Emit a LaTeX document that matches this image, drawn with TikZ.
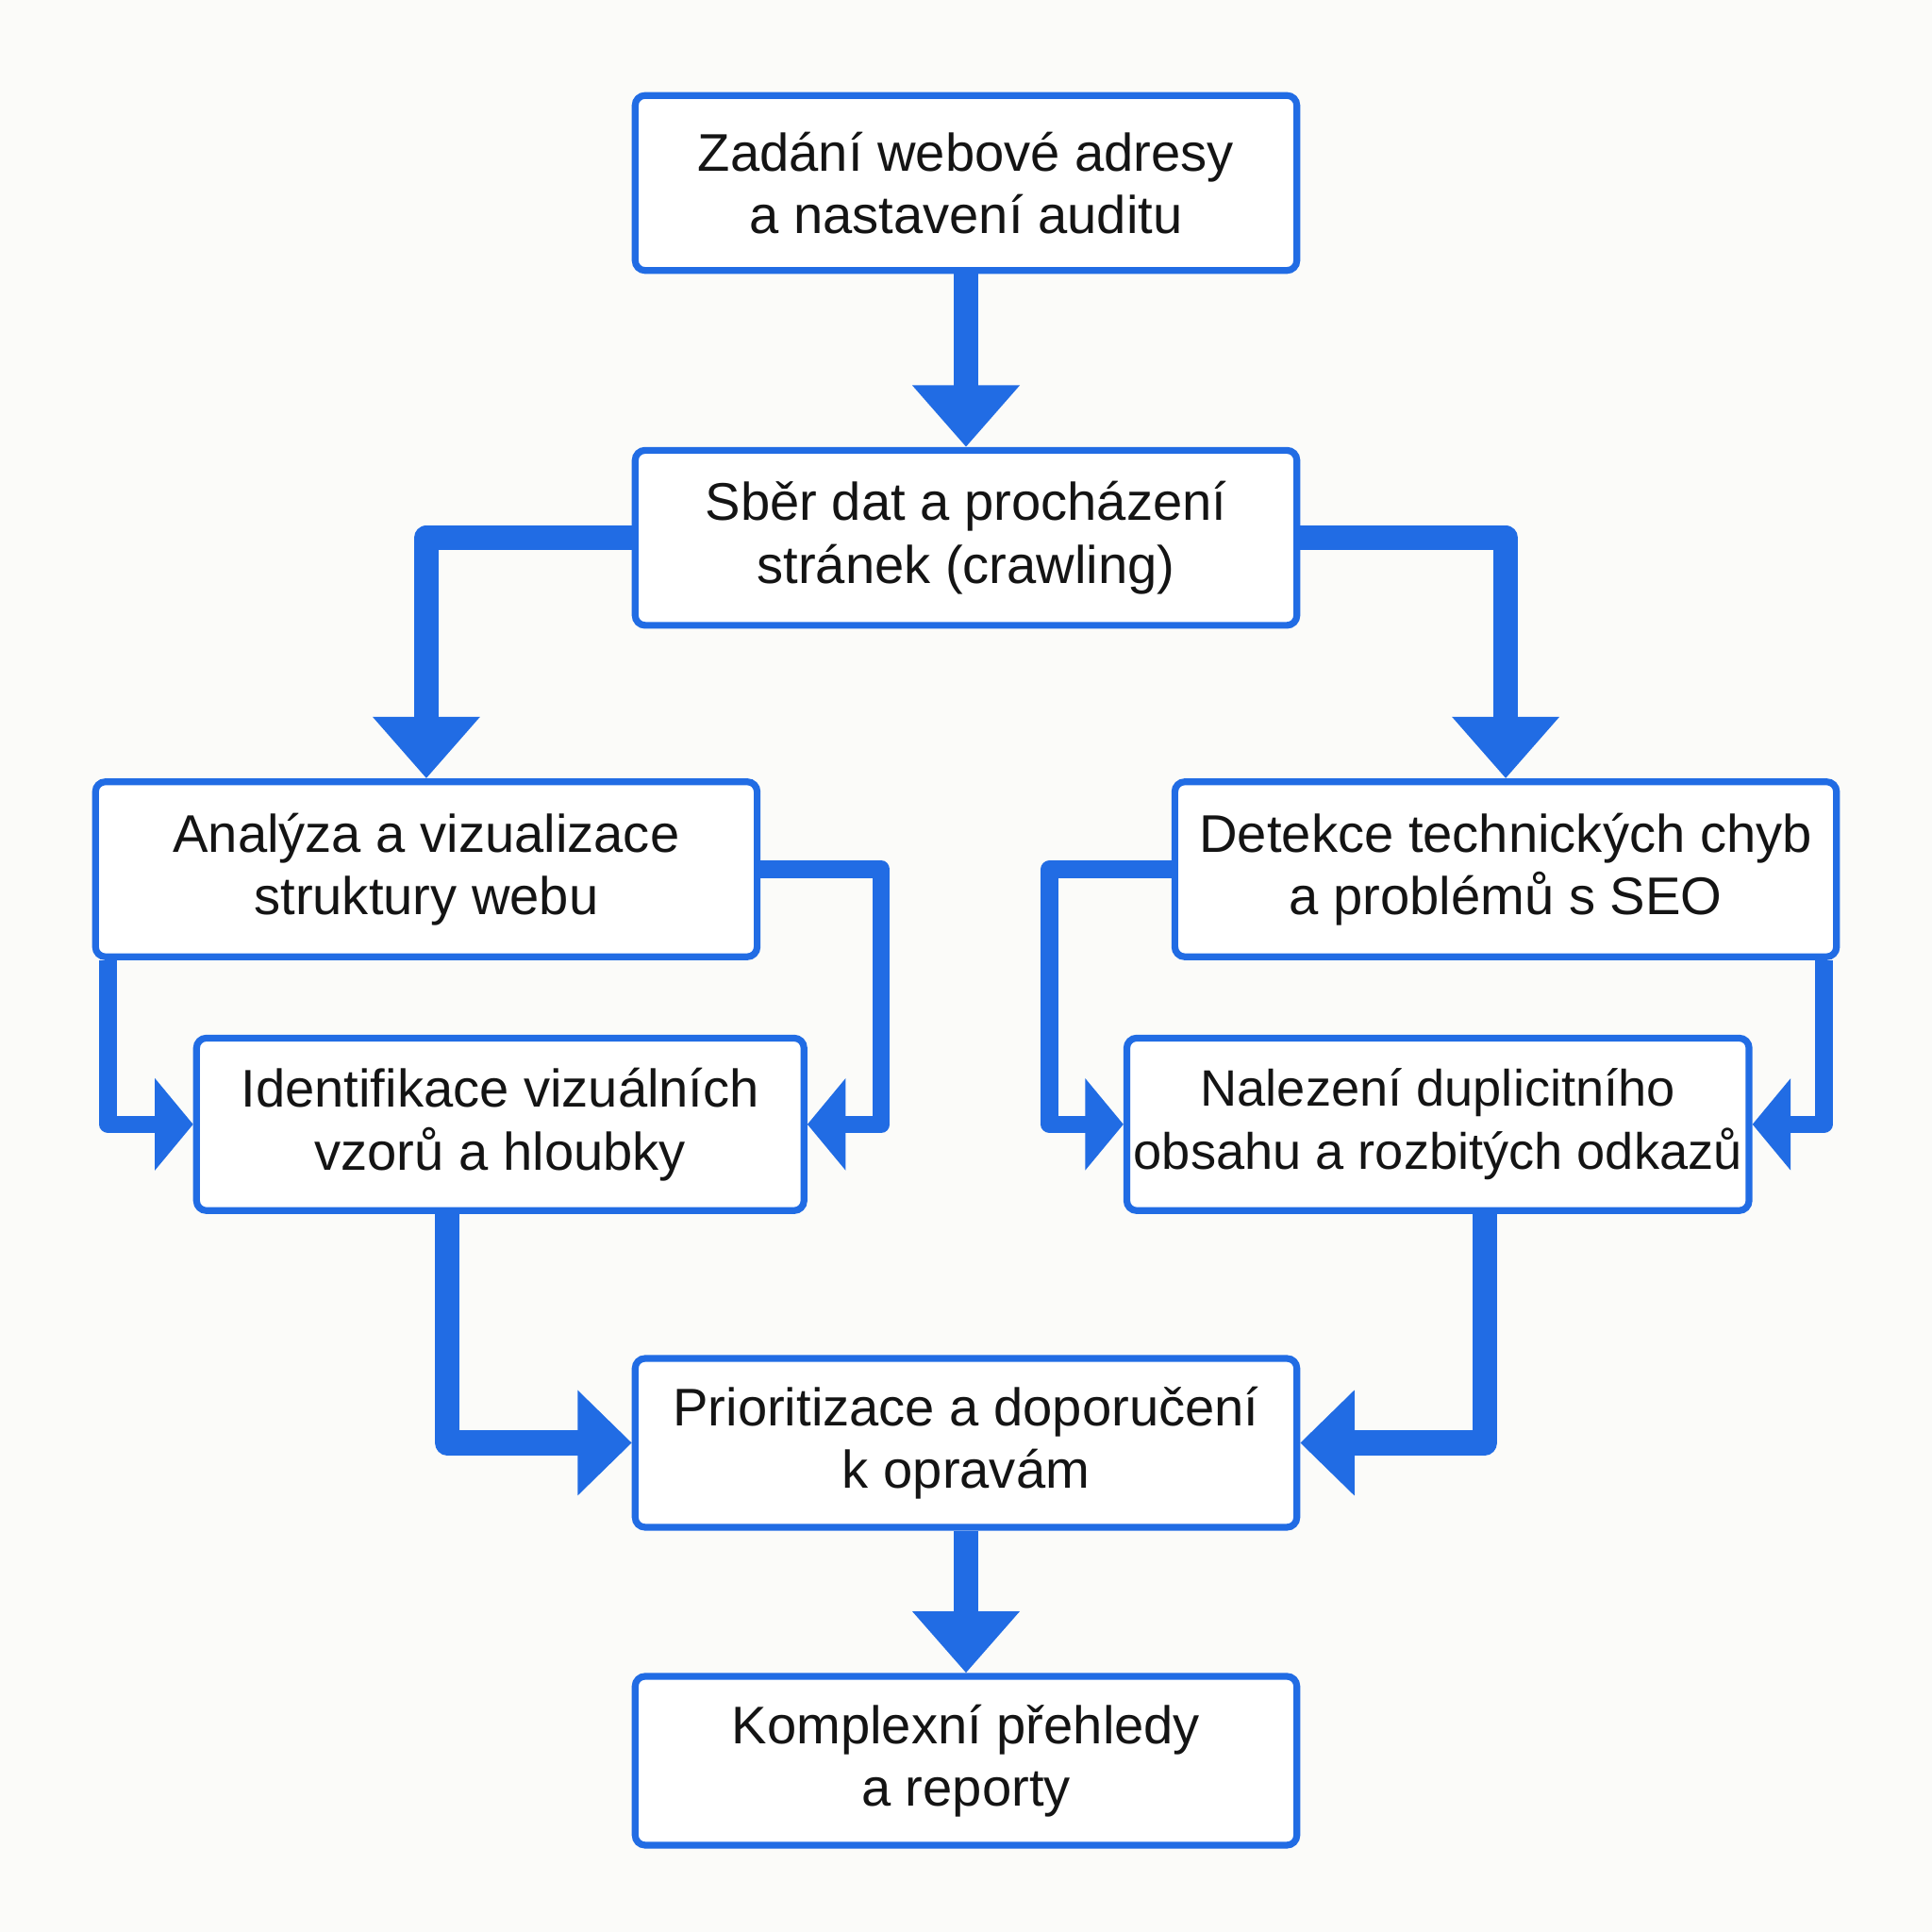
\documentclass[tikz,border=0pt]{standalone}
\usepackage{fontspec}
\setmainfont{Liberation Sans}
\usetikzlibrary{arrows.meta,backgrounds,calc}
\definecolor{flowblue}{RGB}{33,108,228}
\definecolor{bgcol}{RGB}{251,251,249}
\definecolor{txt}{RGB}{20,20,20}
\begin{document}
\begin{tikzpicture}[x=1pt,y=-1pt,
  box/.style={draw=flowblue, line width=5.5pt, fill=white, rounded corners=8pt,
    minimum width=537pt, minimum height=142pt, align=center, inner sep=0pt,
    text=txt, font=\fontsize{43}{51}\selectfont},
  bigarr/.style={draw=flowblue, line width=20pt, line join=round,
    -{Triangle[width=84pt,length=50pt]}},
  midarr/.style={draw=flowblue, line width=20pt, line join=round,
    -{Triangle[width=83pt,length=44pt]}},
  smallarr/.style={draw=flowblue, line width=14pt, line join=round,
    -{Triangle[width=73pt,length=31pt]}}
]
\useasboundingbox (0,0) rectangle (1568,1568);
\node[box] (b1) at (784,148.5) {Zadání webové adresy\\a nastavení auditu};
\node[box] (b2) at (784,436.5) {Sběr dat a procházení\\stránek (crawling)};
\node[box] (b3) at (346,705.5) {Analýza a vizualizace\\struktury webu};
\node[box] (b4) at (1222,705.5) {Detekce technických chyb\\a problémů s SEO};
\node[box, minimum width=493pt, minimum height=140pt] (b5) at (406,912.5) {Identifikace vizuálních\\vzorů a hloubky};
\node[box, minimum width=505pt, minimum height=140pt, font=\fontsize{41.5}{51}\selectfont] (b6) at (1167,912.5) {Nalezení duplicitního\\obsahu a rozbitých odkazů};
\node[box, minimum height=137pt] (b7) at (784,1171) {Prioritizace a doporučení\\k opravám};
\node[box, minimum height=137pt] (b8) at (784,1429) {Komplexní přehledy\\a reporty};
\begin{pgfonlayer}{background}
\fill[bgcol] (0,0) rectangle (1568,1568);
\draw[bigarr] (b1.south) -- (b2.north);
\draw[bigarr] (b2.west) -| (b3.north);
\draw[bigarr] (b2.east) -| (b4.north);
\draw[smallarr] ([xshift=13pt]b3.south west) |- (b5.west);
\draw[smallarr] (b3.east) -- ++(98,0) |- (b5.east);
\draw[smallarr] (b4.west) -- ++(-99,0) |- (b6.west);
\draw[smallarr] ([xshift=-13pt]b4.south east) |- (b6.east);
\draw[midarr] ([xshift=-43pt]b5.south) |- (b7.west);
\draw[midarr] ([xshift=38pt]b6.south) |- (b7.east);
\draw[bigarr] (b7.south) -- (b8.north);
\end{pgfonlayer}
\end{tikzpicture}
\end{document}
